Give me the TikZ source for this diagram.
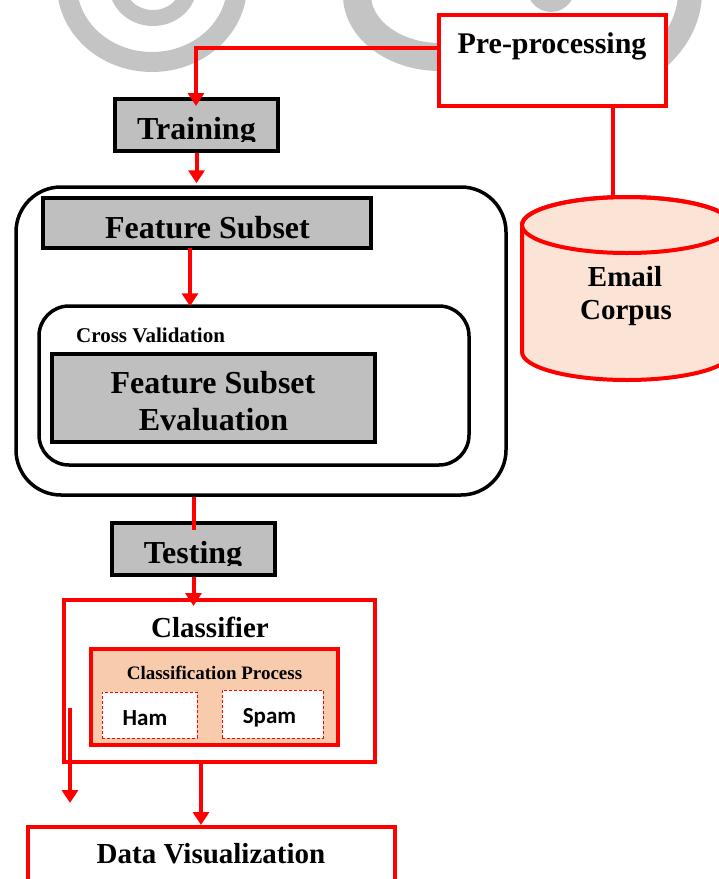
\documentclass[tikz,border=0pt]{standalone}
\usepackage{fontspec}
\setmainfont{Liberation Serif}
\newfontfamily\calibfont{Carlito}
\usetikzlibrary{arrows.meta}
\definecolor{wmgray}{HTML}{C4C4C4}
\definecolor{boxgray}{HTML}{BFBFBF}
\definecolor{peach}{HTML}{F8CBAD}
\definecolor{lightpeach}{HTML}{FBE3D6}
\definecolor{pured}{HTML}{FF0000}
\newcommand{\fsz}[1]{\fontsize{#1}{#1}\selectfont}
\tikzset{
  redbox/.style={draw=pured, line width=4pt, fill=white, rectangle, inner sep=0pt},
  graybox/.style={draw=black, line width=4pt, fill=boxgray, rectangle, inner sep=0pt},
  roundbox/.style={draw=black, line width=3.5pt, rectangle, inner sep=0pt},
  dashbox/.style={draw=pured, line width=1pt, dashed, dash pattern=on 3pt off 2pt, fill=white, rectangle, inner sep=0pt},
  lbl/.style={inner sep=0pt, anchor=base, font=\bfseries},
  arr/.style={draw=pured, line width=4pt, -{Triangle[length=13pt,width=16pt]}},
  conn/.style={draw=pured, line width=4pt},
  wm/.style={draw=wmgray},
}
\begin{document}
\begin{tikzpicture}[x=1pt,y=-1pt]
\useasboundingbox (0,0) rectangle (719,879);
% watermark
\draw[wm, line width=20pt] (152,-15) ellipse [x radius=85, y radius=77];
\draw[wm, line width=16pt] (153,-15) ellipse [x radius=36, y radius=33];
\draw[wm, line width=28pt] (357,-5) arc[start angle=180, end angle=60, x radius=83, y radius=62];
\draw[wm, line width=24pt] (688,-25) arc[start angle=-10, end angle=40, x radius=130, y radius=100];
\draw[wm, line width=12pt] (531,-18) arc[start angle=180, end angle=0, x radius=20, y radius=24];

% boxes
\node[redbox, minimum width=227pt, minimum height=91pt] (pre) at (552.5,60.5) {};
\node[lbl, font=\bfseries\fsz{30}] (pretxt) at (552,53) {Pre-processing};

\node[graybox, minimum width=163pt, minimum height=52pt] (train) at (196.5,125) {};
\begin{scope}
\clip (113,97) rectangle (280,141);
\node[lbl, font=\bfseries\fsz{32}] (traintxt) at (196.5,139) {Training};
\end{scope}

\node[roundbox, rounded corners=45pt, minimum width=490pt, minimum height=308pt] (big) at (261,341) {};
\node[graybox, minimum width=328pt, minimum height=50pt] (fs) at (207,223) {};
\node[lbl, font=\bfseries\fsz{32}] (fstxt) at (207.5,238) {Feature Subset};

\node[roundbox, rounded corners=30pt, minimum width=430pt, minimum height=159pt] (inner) at (254,385.5) {};
\node[lbl, anchor=base west, font=\bfseries\fsz{21}] (cvtxt) at (76,342) {Cross Validation};
\node[graybox, minimum width=323pt, minimum height=88pt] (fse) at (213.5,398) {};
\node[lbl, font=\bfseries\fsz{32}] (fsetxta) at (213,393) {Feature Subset};
\node[lbl, font=\bfseries\fsz{32}] (fsetxtb) at (213.5,430) {Evaluation};

\node[graybox, minimum width=163pt, minimum height=52pt] (test) at (193.5,549) {};
\begin{scope}
\clip (110,521) rectangle (277,565);
\node[lbl, font=\bfseries\fsz{32}] (testtxt) at (193,563) {Testing};
\end{scope}

\node[redbox, minimum width=311pt, minimum height=162pt] (clf) at (219.5,681) {};
\node[lbl, font=\bfseries\fsz{29}] (clftxt) at (210,637) {Classifier};
\node[redbox, fill=peach, minimum width=247pt, minimum height=96pt] (cp) at (214.5,697) {};
\node[lbl, font=\bfseries\fsz{19}] (cptxt) at (214.5,679) {Classification Process};
\node[dashbox, minimum width=95pt, minimum height=46pt] (ham) at (149.5,715) {};
\node[lbl, font=\calibfont\bfseries\fsz{23}] (hamtxt) at (145,725) {Ham};
\node[dashbox, minimum width=101pt, minimum height=48pt] (spam) at (272.5,714) {};
\node[lbl, font=\calibfont\bfseries\fsz{23}] (spamtxt) at (269.5,723) {Spam};

\node[redbox, minimum width=367pt, minimum height=93pt] (dv) at (211.5,873.5) {};
\node[lbl, font=\bfseries\fsz{29}] (dvtxt) at (211,863) {Data Visualization};

% cylinder
\filldraw[draw=pured, fill=lightpeach, line width=4pt]
  (522,225) -- (522,352) arc[start angle=180, end angle=360, x radius=105, y radius=-28]
  -- (732,225) arc[start angle=0, end angle=180, x radius=105, y radius=-28] -- cycle;
\draw[draw=pured, line width=4pt] (627,225) ellipse [x radius=105, y radius=28];
\coordinate (ctop) at (613,197);
\node[lbl, font=\bfseries\fsz{29}] (corpus1) at (625,286) {Email};
\node[lbl, font=\bfseries\fsz{29}] (corpus2) at (626,319) {Corpus};

% connectors
\draw[arr] ([yshift=12.5pt]pre.west) -| ([xshift=-0.5pt,yshift=-9pt]train.north);
\draw[conn] ([xshift=60.5pt]pre.south) -- (ctop);
\draw[arr] (train.south) -- ([yshift=2pt]train.south |- big.north);
\draw[arr] ([xshift=-17pt,yshift=2pt]fs.south) -- ([xshift=-17pt,yshift=-2pt]fs.south |- inner.north);
\draw[conn] (test.north |- big.south) -- ([yshift=-9pt]test.north);
\draw[arr] (test.south) -- ([yshift=-8pt]test.south |- clf.north);
\draw[arr] ([xshift=-18.5pt]clf.south) -- ([xshift=-18.5pt]clf.south |- dv.north);
\coordinate (s1) at (70,708);
\coordinate (s2) at (70,803);
\draw[arr] (s1) -- (s2);
\end{tikzpicture}
\end{document}
